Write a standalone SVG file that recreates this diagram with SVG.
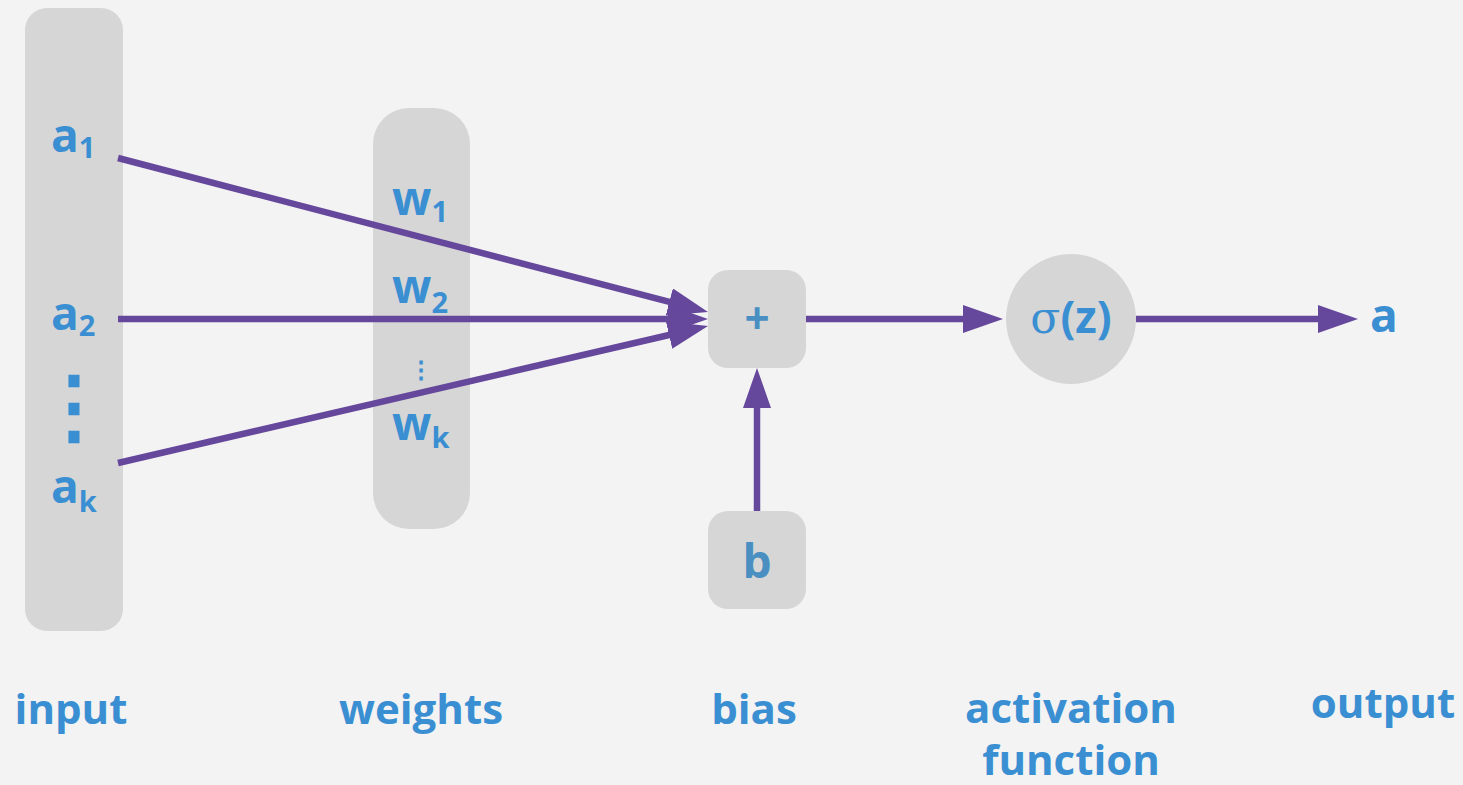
<svg xmlns="http://www.w3.org/2000/svg" width="1463" height="785" viewBox="0 0 1463 785">
<defs>
<style>
.box{fill:#d6d6d6}
.t{font-family:"Open Sans","Noto Sans",sans-serif;font-weight:bold;fill:#3a8fd2}
.sym{font-size:46px}
.sub{font-size:29px}
.lbl{font-size:42px;text-anchor:middle}
.op{fill:#4a8fc2;text-anchor:middle}
.edge{stroke:#65479c;stroke-width:6.5;fill:none;marker-end:url(#ah)}
</style>
<marker id="ah" markerUnits="userSpaceOnUse" markerWidth="40" markerHeight="28" refX="20" refY="14" orient="auto">
<path d="M0,0 L40,14 L0,28 z" fill="#65479c"/>
</marker>
</defs>
<rect width="1463" height="785" fill="#f3f3f3"/>

<g id="input">
<rect class="box" x="25" y="8" width="98" height="623" rx="22"/>
<text class="t sym" x="51" y="152">a<tspan class="sub" dy="6">1</tspan></text>
<text class="t sym" x="51" y="330">a<tspan class="sub" dy="6">2</tspan></text>
<text class="t" x="74" y="435" font-size="82" font-family="'DejaVu Sans',sans-serif" text-anchor="middle">⋮</text>
<text class="t sym" x="51" y="503">a<tspan class="sub" dy="9">k</tspan></text>
</g>

<g id="weights">
<rect class="box" x="373" y="108" width="97" height="421" rx="36"/>
<text class="t sym" x="392" y="215">w<tspan class="sub" dy="7">1</tspan></text>
<text class="t sym" x="392" y="303">w<tspan class="sub" dy="10">2</tspan></text>
<text class="t" x="421" y="378" font-size="24" text-anchor="middle">⋮</text>
<text class="t sym" x="392" y="440">w<tspan class="sub" dy="8">k</tspan></text>
</g>

<g id="sum">
<rect class="box" x="708" y="270" width="98" height="98" rx="20"/>
<text class="t op" x="757" y="334" font-size="44">+</text>
</g>

<g id="bias">
<rect class="box" x="708" y="511" width="98" height="98" rx="20"/>
<text class="t op" x="757" y="578" font-size="46">b</text>
</g>

<g id="activation">
<circle class="box" cx="1071" cy="319" r="65"/>
<text class="t" x="1071" y="333" font-size="44" text-anchor="middle"><tspan font-weight="normal" font-family="'DejaVu Serif',serif">σ</tspan>(z)</text>
</g>

<g id="output">
<text class="t sym" x="1370" y="332">a</text>
</g>

<g id="connectors">
<line class="edge" x1="118" y1="158" x2="688.65" y2="306.95"/>
<line class="edge" x1="118" y1="319" x2="688" y2="319"/>
<line class="edge" x1="118" y1="463" x2="688.52" y2="330.52"/>
<line class="edge" x1="806" y1="319" x2="983" y2="319"/>
<line class="edge" x1="1136" y1="319" x2="1338" y2="319"/>
<line class="edge" x1="757" y1="511" x2="757" y2="388"/>
</g>

<g id="labels">
<text class="t lbl" x="71" y="724">input</text>
<text class="t lbl" x="421" y="724">weights</text>
<text class="t lbl" x="754" y="724">bias</text>
<text class="t lbl" x="1071" y="723">activation</text>
<text class="t lbl" x="1071" y="775">function</text>
<text class="t lbl" x="1383" y="718">output</text>
</g>
</svg>
